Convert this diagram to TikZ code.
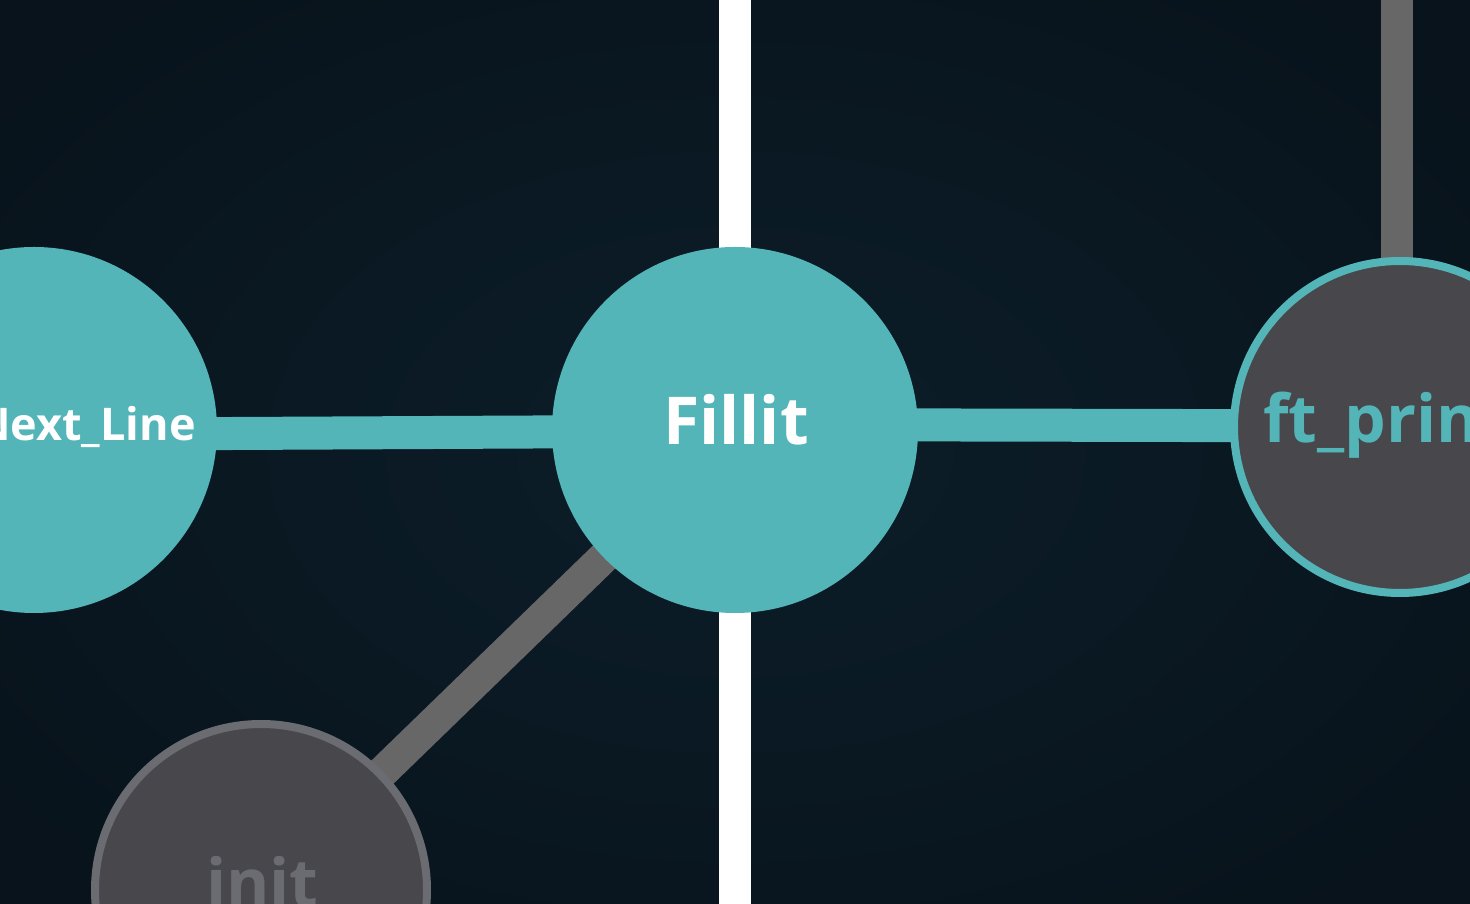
\documentclass[tikz,border=0pt]{standalone}
\usepackage{fontspec}
\setmainfont{Open Sans}
\definecolor{bgin}{HTML}{0C1E2A}
\definecolor{bgout}{HTML}{08131B}
\definecolor{teal}{HTML}{54B5B8}
\definecolor{darkfill}{HTML}{48474C}
\definecolor{grayborder}{HTML}{6B6C72}
\definecolor{grayline}{HTML}{676767}
\pgfdeclarelayer{bglayer}
\pgfdeclarelayer{edgelayer}
\pgfsetlayers{bglayer,edgelayer,main}
\tikzset{
  tealnode/.style={circle, fill=teal, draw=none, inner sep=0pt, minimum size=366pt},
  tealring/.style={circle, fill=darkfill, draw=teal, line width=8pt, inner sep=0pt, minimum size=332pt},
  grayring/.style={circle, fill=darkfill, draw=grayborder, line width=8pt, inner sep=0pt, minimum size=332pt},
  tealedge/.style={draw=teal, line width=33pt},
  grayedge/.style={draw=grayline, line width=32pt},
  whiteedge/.style={draw=white, line width=32pt},
  lbl/.style={inner sep=0pt, font=\bfseries\fontsize{66}{78}\selectfont},
  smalllbl/.style={inner sep=0pt, font=\bfseries\fontsize{45}{54}\selectfont},
}
\begin{document}
\begin{tikzpicture}[x=1pt,y=1pt]
\useasboundingbox (0,0) rectangle (1470,904);
\clip (0,0) rectangle (1470,904);
\begin{pgfonlayer}{bglayer}
\shade[inner color=bgin, outer color=bgout] (-200,-150) rectangle (1670,1054);
\end{pgfonlayer}
% coordinates for free ends
\coordinate (wtop) at (735,910);
\coordinate (wbot) at (735,-6);
\coordinate (gtop) at (1397,910);
% circle nodes
\node[tealnode] (nl) at (34,474) {};
\node[tealnode] (fl) at (735,474) {};
\node[tealring] (ft) at (1400,477) {};
\node[grayring] (in) at (261,14) {};
% connectors behind the circles
\begin{pgfonlayer}{edgelayer}
\draw[whiteedge] (wtop) -- (wbot);
\draw[grayedge] (gtop |- ft.center) ++(0,0) coordinate (gbot);
\draw[grayedge] (gtop) -- (gbot);
\draw[grayedge] (in.center) -- (fl.center);
\draw[tealedge] ([yshift=-4.5pt]nl.center) -- ([yshift=-1pt]fl.center);
\draw[tealedge] ([yshift=5.5pt]fl.center) -- ([yshift=1pt]ft.center);
\end{pgfonlayer}
% labels
\node[smalllbl, text=white, anchor=base east] (tnl) at (196,463) {Next\_Line};
\node[lbl, text=white, anchor=base] (tfl) at (736,459) {Fillit};
\node[lbl, text=teal, anchor=base west] (tft) at (1263,461) {ft\_printf};
\node[lbl, text=grayborder, anchor=base west] (tin) at (206,-3) {init};
\end{tikzpicture}
\end{document}
